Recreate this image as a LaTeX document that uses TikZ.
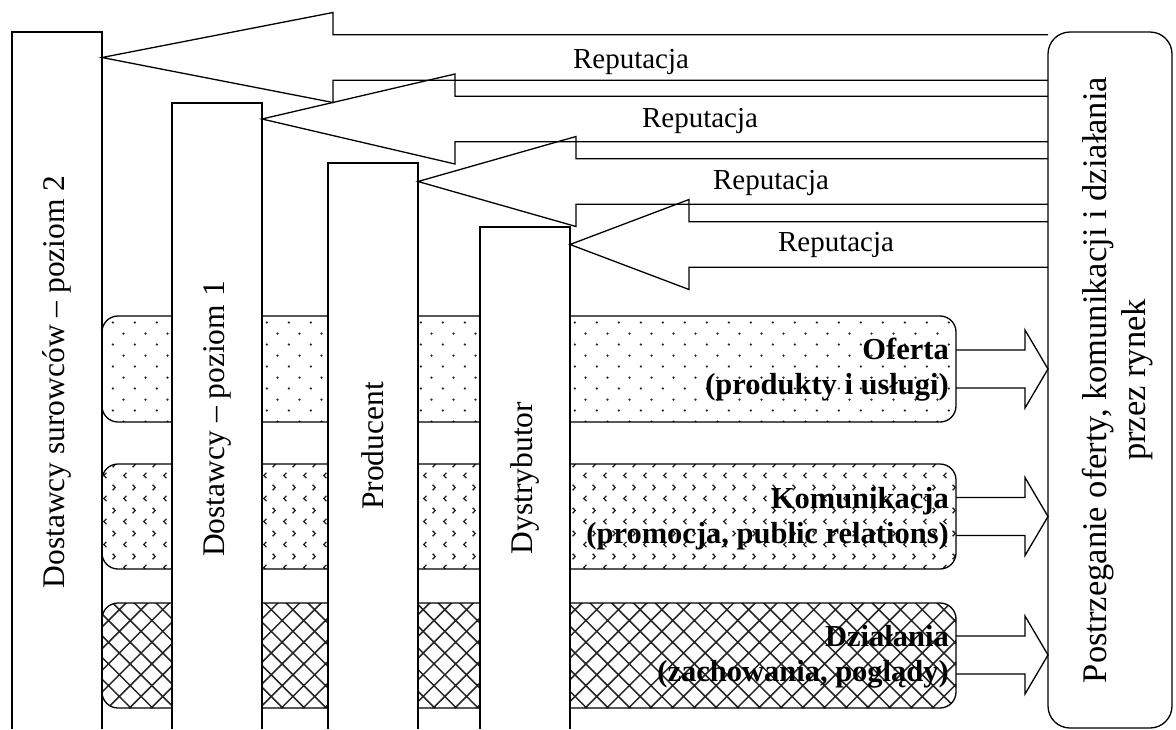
\documentclass[tikz,border=0pt]{standalone}
\usepackage{fontspec}
\setmainfont{Liberation Serif}
\usetikzlibrary{patterns.meta}

\pgfdeclarepattern{
  name=pdots,
  type=uncolored,
  bottom left={\pgfpoint{0pt}{0pt}},
  top right={\pgfpoint{21.6pt}{22.4pt}},
  tile size={\pgfpoint{21.6pt}{22.4pt}},
  code={
    \pgfpathcircle{\pgfpoint{5pt}{5.6pt}}{1.3pt}
    \pgfpathcircle{\pgfpoint{15.8pt}{16.8pt}}{1.3pt}
    \pgfusepath{fill}
  }
}
\pgfdeclarepattern{
  name=pchev,
  type=uncolored,
  bottom left={\pgfpoint{0pt}{0pt}},
  top right={\pgfpoint{20pt}{22.4pt}},
  tile size={\pgfpoint{20pt}{22.4pt}},
  code={
    \pgfsetlinewidth{1.4pt}
    \pgfpathmoveto{\pgfpoint{6.8pt}{8.4pt}}
    \pgfpathlineto{\pgfpoint{4pt}{5.6pt}}
    \pgfpathlineto{\pgfpoint{6.8pt}{2.8pt}}
    \pgfpathmoveto{\pgfpoint{13.2pt}{19.6pt}}
    \pgfpathlineto{\pgfpoint{16pt}{16.8pt}}
    \pgfpathlineto{\pgfpoint{13.2pt}{14pt}}
    \pgfusepath{stroke}
  }
}
\pgfdeclarepattern{
  name=pcross,
  type=uncolored,
  bottom left={\pgfpoint{-1pt}{-1pt}},
  top right={\pgfpoint{22.7pt}{22.7pt}},
  tile size={\pgfpoint{21.7pt}{21.7pt}},
  code={
    \pgfsetlinewidth{1.5pt}
    \pgfpathmoveto{\pgfpoint{-1pt}{-1pt}}
    \pgfpathlineto{\pgfpoint{22.7pt}{22.7pt}}
    \pgfpathmoveto{\pgfpoint{-1pt}{22.7pt}}
    \pgfpathlineto{\pgfpoint{22.7pt}{-1pt}}
    \pgfusepath{stroke}
  }
}

\tikzset{
  line/.style={line width=1.3pt, line join=miter},
  hbox/.style={line, rounded corners=16pt},
  colbox/.style={line, fill=white},
  coltext/.style={rotate=90, inner sep=0pt, font=\fontsize{31.5}{36}\selectfont},
  reptext/.style={inner sep=0pt, font=\fontsize{29}{33}\selectfont},
  boxtext/.style={inner sep=0pt, anchor=east, align=right, font=\fontsize{30.5}{35}\selectfont\bfseries},
}

\begin{document}
\begin{tikzpicture}[x=1pt,y=-1pt]
\useasboundingbox (0,0) rectangle (1176,729);

% horizontal patterned boxes
\draw[hbox, pattern={pdots}, pattern color=black!85] (102,316) rectangle (956,422);
\draw[hbox, pattern={pchev}, pattern color=black!85] (102,464) rectangle (956,569);
\draw[hbox, pattern={pcross}, pattern color=black!85] (102,603) rectangle (956,708);

% columns
\draw[colbox] (12,729) -- (12,32) -- (102,32) -- (102,729);
\draw[colbox] (172,729) -- (172,103) -- (262,103) -- (262,729);
\draw[colbox] (328,729) -- (328,163) -- (418,163) -- (418,729);
\draw[colbox] (480,729) -- (480,227) -- (570,227) -- (570,729);

% right box
\draw[line, rounded corners=22pt] (1048,32) rectangle (1172,728);

% left arrows (Reputacja)
\foreach \c/\hx/\tx in {57.5/333/102, 119/455/262, 181.5/576/418, 244.5/689/570}{
  \draw[line] (1048,\c-22.75) -- (\hx,\c-22.75) -- (\hx,\c-45) -- (\tx,\c)
     -- (\hx,\c+45) -- (\hx,\c+22.75) -- (1048,\c+22.75);
}

% right hollow arrows
\foreach \c in {369, 516.5, 655}{
  \draw[line] (956,\c-19) -- (1025,\c-19) -- (1025,\c-39) -- (1048,\c)
     -- (1025,\c+39) -- (1025,\c+19) -- (956,\c+19);
}

% labels
\node[reptext] (r1) at (631,62) {Reputacja};
\node[reptext] (r2) at (700,121) {Reputacja};
\node[reptext] (r3) at (771,183) {Reputacja};
\node[reptext] (r4) at (836,245) {Reputacja};

\node[coltext] (c1) at (57,382) {Dostawcy surowców – poziom 2};
\node[coltext] (c2) at (217,419) {Dostawcy – poziom 1};
\node[coltext] (c3) at (373,446) {Producent};
\node[coltext] (c4) at (525,478) {Dystrybutor};

\node[boxtext] (t1) at (949,370) {Oferta\\(produkty i usługi)};
\node[boxtext] (t2) at (949,519) {Komunikacja\\(promocja, public relations)};
\node[boxtext] (t3) at (949,657) {Działania\\(zachowania, poglądy)};

\node[rotate=90, align=center, inner sep=0pt, font=\fontsize{34.5}{39}\selectfont] (rt) at (1118,380)
  {Postrzeganie oferty, komunikacji i działania\\przez rynek};
\end{tikzpicture}
\end{document}
